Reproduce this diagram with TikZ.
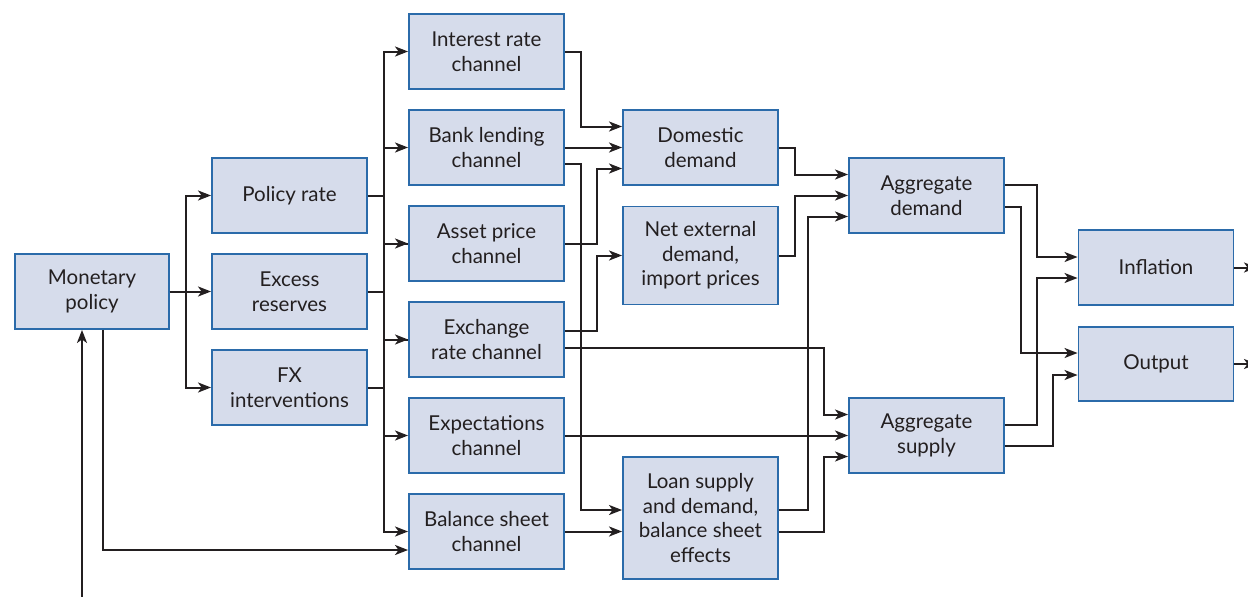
\documentclass[tikz,border=0pt]{standalone}
\usepackage{fontspec}
\setmainfont{Lato}
\usetikzlibrary{arrows.meta}
\definecolor{boxfill}{HTML}{D6DCEB}
\definecolor{boxline}{HTML}{2B6BAA}
\definecolor{ink}{HTML}{231F20}
\begin{document}
\begin{tikzpicture}[x=1pt,y=-1pt,
  box/.style={draw=boxline,line width=1.9pt,fill=boxfill,text=ink,
    minimum width=155pt,minimum height=75pt,inner sep=0pt,align=center,
    font=\fontsize{20.5}{24.5}\selectfont},
  arr/.style={draw=ink,line width=2pt,-{Stealth[length=13pt,width=10pt,inset=3.5pt]}},
  ln/.style={draw=ink,line width=2pt}]
\useasboundingbox (0,0) rectangle (1248,597);
% nodes
\node[box,minimum width=154pt] (mp) at (92,291.5) {Monetary\\policy};
\node[box] (pr) at (289.5,195.5) {Policy rate};
\node[box] (er) at (289.5,291.5) {Excess\\reserves};
\node[box] (fx) at (289.5,387.5) {FX\\interventions};
\node[box] (ir) at (486.5,51.5) {Interest rate\\channel};
\node[box] (bl) at (486.5,147.5) {Bank lending\\channel};
\node[box] (ap) at (486.5,243.5) {Asset price\\channel};
\node[box] (xr) at (486.5,339.5) {Exchange\\rate channel};
\node[box] (ex) at (486.5,435.5) {Expectations\\channel};
\node[box] (bs) at (486.5,531.5) {Balance sheet\\channel};
\node[box] (dd) at (700.5,147.5) {Domestic\\demand};
\node[box,minimum height=98pt] (ne) at (700.5,255.5) {Net external\\demand,\\import prices};
\node[box,minimum height=122pt] (ls) at (700.5,518) {Loan supply\\and demand,\\balance sheet\\effects};
\node[box] (ad) at (926.5,195.5) {Aggregate\\demand};
\node[box] (as) at (926.5,435.5) {Aggregate\\supply};
\node[box] (inf) at (1156,267.5) {Inflation};
\node[box,minimum height=74pt] (out) at (1156,364) {Output};
\coordinate (fb) at (82,600);
\coordinate (infx) at (1257,267.5);
\coordinate (outx) at (1257,364);
% monetary policy to instruments
\draw[arr] (mp.east) -- ++(16,0) |- (pr.west);
\draw[arr] (mp.east) -- (er.west);
\draw[arr] (mp.east) -- ++(16,0) |- (fx.west);
% instruments to channels
\draw[ln] (pr.east) -- ++(16,0) coordinate (b1);
\draw[ln] (er.east) -- ++(16,0) coordinate (b2);
\draw[ln] (fx.east) -- ++(16,0) coordinate (b3);
\draw[arr] (b1) |- (ir.west);
\draw[arr] (b1) |- (bl.west);
\draw[arr] (b1) |- (ap.west);
\draw[arr] (b3) |- (xr.west);
\draw[arr] (b3) |- (ex.west);
\draw[arr] (b3) |- (bs.west);
\draw[ln] (b2) |- (ap.west);
\draw[ln] (b2) |- (xr.west);
\draw[arr] ([xshift=11pt]mp.south) |- ([yshift=-18.5pt]bs.west);
\draw[arr] (fb) -- (fb |- mp.south);
% channels onward
\draw[arr] (ir.east) -- ++(16,0) |- ([yshift=21pt]dd.west);
\draw[arr] (bl.east) -- (dd.west);
\draw[arr] ([yshift=-16pt]bl.east) -- ++(16,0) |- ([yshift=8pt]ls.west);
\draw[arr] (ap.east) -- ++(32,0) |- ([yshift=-21pt]dd.west);
\draw[arr] ([yshift=8.5pt]xr.east) -- ++(32,0) |- (ne.west);
\draw[arr] ([yshift=-8.5pt]xr.east) -- ++(259,0) |- ([yshift=21pt]as.west);
\draw[arr] (ex.east) -- (as.west);
\draw[arr] (bs.east) -- (bs.east -| ls.west);
% middle column onward
\draw[arr] (dd.east) -- ++(16,0) |- ([yshift=21pt]ad.west);
\draw[arr] (ne.east) -- ++(16,0) |- (ad.west);
\draw[arr] ([yshift=8pt]ls.east) -- ++(29,0) |- ([yshift=-21pt]ad.west);
\draw[arr] ([yshift=-14pt]ls.east) -- ++(45,0) |- ([yshift=-21pt]as.west);
% aggregates to outcomes
\draw[arr] ([yshift=11pt]ad.east) -- ++(32,0) |- ([yshift=10.5pt]inf.west);
\draw[arr] ([yshift=-11pt]ad.east) -- ++(16,0) |- ([yshift=11pt]out.west);
\draw[arr] ([yshift=10.5pt]as.east) -- ++(32,0) |- ([yshift=-10.5pt]inf.west);
\draw[arr] ([yshift=-10.5pt]as.east) -- ++(48,0) |- ([yshift=-11pt]out.west);
\draw[arr] (inf.east) -- (infx);
\draw[arr] (out.east) -- (outx);
\end{tikzpicture}
\end{document}
